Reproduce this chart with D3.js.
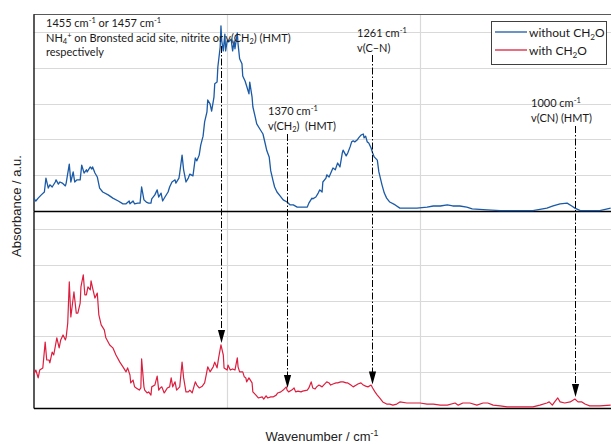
<!DOCTYPE html>
<html><head><meta charset="utf-8">
<script src="https://cdn.jsdelivr.net/npm/d3@7"></script>
<style>body{margin:0;background:#fff}svg{display:block}</style>
</head><body><svg id="c" width="611" height="444"></svg>
<script>
// ---- data ----
const blueWavenumber = [1696,1693,1690,1686,1682,1680,1677,1675,1672,1668,1667,1664,1662,1659,1655,1654,1650,1648,1645,1643,1640,1636,1634,1631,1628,1627,1623,1621,1620,1617,1614,1611,1607,1600,1594,1587,1581,1577,1573,1572,1568,1566,1562,1559,1557,1554,1551,1548,1545,1544,1540,1537,1535,1532,1530,1527,1523,1521,1518,1514,1513,1509,1508,1505,1503,1500,1497,1495,1491,1488,1486,1483,1481,1478,1476,1473,1472,1469,1467,1464,1463,1460,1459,1456,1455,1454,1452,1450,1449,1447,1445,1442,1440,1438,1437,1434,1433,1431,1428,1427,1424,1422,1419,1418,1415,1414,1411,1409,1405,1401,1398,1396,1393,1391,1388,1386,1383,1379,1375,1370,1366,1362,1357,1353,1350,1344,1342,1338,1337,1333,1330,1328,1325,1324,1320,1319,1316,1312,1311,1308,1306,1305,1302,1299,1298,1294,1292,1289,1287,1285,1283,1280,1278,1275,1272,1271,1269,1267,1265,1262,1260,1258,1254,1252,1248,1245,1242,1238,1231,1225,1216,1203,1190,1182,1173,1164,1157,1148,1139,1132,1113,1096,1054,1036,1028,1019,1010,1004,1000,993,968,954];
const blueAbsorbance = [0.36,0.28,0.36,0.45,0.53,0.92,0.64,0.73,0.67,0.81,0.87,0.75,0.81,0.78,0.70,0.78,1.31,0.81,1.09,0.81,0.87,0.87,1.28,1.06,1.15,1.09,1.23,1.17,1.23,1.06,0.95,0.64,0.53,0.45,0.36,0.28,0.20,0.20,0.28,0.20,0.28,0.20,0.22,0.22,0.67,0.31,0.25,0.22,0.22,0.34,0.45,0.59,0.39,0.50,0.28,0.39,0.53,0.67,0.81,0.87,0.78,0.92,1.06,1.56,1.15,0.81,0.92,1.03,0.98,1.48,1.40,1.56,1.84,2.09,2.49,2.77,3.10,2.99,2.79,3.18,3.55,3.60,4.02,4.58,5.17,4.75,4.47,4.94,4.47,4.75,4.72,4.80,4.47,4.75,4.53,4.97,4.66,4.25,4.11,3.77,3.63,3.49,3.27,3.60,3.18,2.91,2.63,2.43,2.29,2.15,1.87,1.68,1.51,1.12,0.84,0.67,0.53,0.42,0.31,0.25,0.17,0.17,0.11,0.11,0.11,0.11,0.22,0.36,0.34,0.39,0.50,0.59,0.53,0.81,0.92,1.01,0.95,1.15,1.20,1.15,1.28,1.34,1.23,1.62,1.70,1.54,1.62,1.79,1.93,1.96,1.93,1.98,2.04,2.12,2.15,2.04,2.09,1.93,1.90,1.76,1.62,1.51,1.42,1.09,0.73,0.50,0.36,0.25,0.17,0.08,0.08,0.08,0.11,0.14,0.14,0.17,0.14,0.14,0.11,0.06,0.03,0.01,0.01,0.08,0.14,0.20,0.22,0.14,0.08,0.01,0.01,0.08];
const redWavenumber = [1696,1693,1690,1688,1684,1681,1679,1676,1675,1672,1670,1667,1666,1663,1661,1658,1655,1654,1652,1650,1648,1644,1641,1639,1636,1635,1632,1630,1628,1626,1623,1622,1620,1617,1614,1612,1609,1605,1603,1598,1594,1590,1585,1581,1577,1575,1572,1571,1568,1566,1564,1560,1558,1557,1554,1553,1550,1548,1545,1544,1540,1537,1535,1533,1531,1528,1527,1524,1521,1519,1517,1514,1512,1508,1505,1503,1500,1497,1495,1492,1488,1486,1483,1479,1476,1474,1472,1469,1465,1463,1460,1458,1455,1452,1451,1447,1446,1443,1440,1437,1434,1433,1431,1427,1425,1423,1422,1419,1415,1414,1410,1407,1402,1400,1397,1395,1391,1388,1384,1382,1378,1375,1371,1370,1368,1364,1361,1359,1356,1352,1350,1344,1342,1339,1337,1334,1332,1329,1325,1323,1319,1316,1314,1311,1307,1305,1301,1298,1294,1292,1288,1285,1281,1279,1275,1272,1269,1266,1262,1260,1257,1254,1251,1247,1242,1238,1234,1229,1225,1216,1208,1199,1190,1182,1173,1164,1154,1150,1144,1135,1126,1118,1112,1105,1096,1087,1074,1062,1054,1045,1036,1033,1029,1026,1022,1019,1013,1006,1000,996,991,987,981,968,954];
const redAbsorbance = [0.92,1.06,0.84,1.06,1.12,1.84,1.34,1.34,1.26,1.56,1.48,1.84,1.96,1.68,1.90,2.04,1.90,1.98,2.37,3.52,2.54,3.24,2.65,2.65,2.93,3.38,3.72,3.16,3.16,3.38,3.30,3.55,3.35,3.07,3.21,2.60,2.32,2.18,1.96,1.76,1.68,1.48,1.28,1.15,1.01,1.12,0.92,0.70,0.78,0.59,0.56,0.50,0.56,1.37,0.59,0.50,0.42,0.45,0.36,0.59,0.64,0.89,0.50,0.56,0.59,0.42,0.45,0.56,0.59,0.84,0.59,0.73,0.50,0.59,1.28,0.84,0.45,0.45,0.50,0.42,0.73,0.64,0.56,0.61,0.70,0.92,1.15,1.01,1.15,1.28,1.12,1.40,1.76,1.48,1.12,1.06,1.20,1.06,1.09,1.06,1.40,1.15,1.01,1.01,0.87,0.84,0.73,0.84,0.70,0.45,0.36,0.28,0.31,0.25,0.34,0.28,0.31,0.31,0.36,0.42,0.45,0.50,0.59,0.50,0.45,0.50,0.56,0.45,0.47,0.45,0.47,0.50,0.56,0.73,0.56,0.53,0.59,0.64,0.59,0.64,0.73,0.70,0.64,0.67,0.70,0.70,0.73,0.73,0.70,0.70,0.64,0.59,0.64,0.67,0.70,0.64,0.61,0.59,0.64,0.56,0.45,0.36,0.28,0.17,0.11,0.11,0.08,0.11,0.17,0.14,0.14,0.14,0.11,0.11,0.08,0.08,0.14,0.08,0.14,0.14,0.08,0.14,0.14,0.08,0.06,0.03,0.03,0.03,0.03,0.08,0.14,0.17,0.08,0.17,0.28,0.17,0.14,0.17,0.25,0.17,0.17,0.11,0.06,0.06,0.08];
const seriesNames = ["without CH_{2}O", "with CH_{2}O"];
const seriesColors = ["#1a5aa6", "#dc1f3f"];
const markedWavenumbers = [1455, 1370, 1261, 1000];
const markedLabels = [
  ["1455 cm^{-1} or 1457 cm^{-1}", "NH_{4}^{+} on Bronsted acid site, nitrite or v(CH_{2}) (HMT)", "respectively"],
  ["1370 cm^{-1}", "v(CH_{2})  (HMT)"],
  ["1261 cm^{-1}", "v(C\u2013N)"],
  ["1000 cm^{-1}", "v(CN) (HMT)"]
];
const verticalGridWavenumbers = [1447, 1199];
const absorbanceGrid = [1, 2, 3, 4, 5];
const xTitle = "Wavenumber / cm^{-1}";
const yTitle = "Absorbance / a.u.";

// ---- drawing ----
const svg = d3.select("#c");
const L = 33.5, R = 613, T = 14, MID = 211, B = 408;
const x = d3.scaleLinear().domain([1696, 951]).range([L, R]);
const yTop = d3.scaleLinear().domain([0, 5.5]).range([MID, T]);
const yBot = d3.scaleLinear().domain([0, 5.5]).range([B, MID]);

const blue = blueWavenumber.map((w, i) => ({w, a: blueAbsorbance[i]}));
const red = redWavenumber.map((w, i) => ({w, a: redAbsorbance[i]}));

function rich(sel, str, size) {
  str.split(/([_^]\{[^}]*\})/).forEach(p => {
    if (!p) return;
    const m = p.match(/^([_^])\{([^}]*)\}$/);
    if (m) sel.append("tspan").attr("font-size", size * 0.68)
      .attr("baseline-shift", m[1] === "^" ? size * 0.38 : -size * 0.22).text(m[2]);
    else sel.append("tspan").text(p);
  });
}

svg.append("defs").append("clipPath").attr("id", "clip")
  .append("rect").attr("x", L).attr("y", T).attr("width", R - L).attr("height", B - T);

// gridlines
const grid = svg.append("g").attr("stroke", "#d9d9d9").attr("stroke-width", 1.2);
[yTop, yBot].forEach(ys => {
  grid.selectAll(null).data(absorbanceGrid).enter().append("line")
    .attr("x1", L).attr("x2", R).attr("y1", d => Math.round(ys(d)) + 0.5).attr("y2", d => Math.round(ys(d)) + 0.5);
});
grid.selectAll(null).data(verticalGridWavenumbers).enter().append("line")
  .attr("x1", d => Math.round(x(d)) + 0.5).attr("x2", d => Math.round(x(d)) + 0.5).attr("y1", T).attr("y2", B);

// frame / axes
svg.append("line").attr("x1", L).attr("x2", R).attr("y1", T + 0.5).attr("y2", T + 0.5).attr("stroke", "#595959").attr("stroke-width", 1.2);
svg.append("g").attr("transform", `translate(0,${B})`).call(d3.axisBottom(x).tickValues([]).tickSizeOuter(0));
svg.append("g").attr("transform", `translate(0,${MID})`).call(d3.axisBottom(x).tickValues([]).tickSizeOuter(0));
svg.append("g").attr("transform", `translate(${L},0)`).call(d3.axisLeft(yTop).tickValues([]).tickSizeOuter(0));
svg.append("g").attr("transform", `translate(${L},0)`).call(d3.axisLeft(yBot).tickValues([]).tickSizeOuter(0));
svg.selectAll(".domain").attr("stroke", "#000").attr("stroke-width", 1.3);

// series
const plot = svg.append("g").attr("clip-path", "url(#clip)");
plot.append("path").datum(blue).attr("fill", "none").attr("stroke", seriesColors[0]).attr("stroke-width", 1.3)
  .attr("stroke-linejoin", "round").attr("d", d3.line().x(d => x(d.w)).y(d => yTop(d.a)));
plot.append("path").datum(red).attr("fill", "none").attr("stroke", seriesColors[1]).attr("stroke-width", 1.2)
  .attr("stroke-linejoin", "round").attr("d", d3.line().x(d => x(d.w)).y(d => yBot(d.a)));

// annotations
const redAt = w => {
  const i = redWavenumber.findIndex(v => v <= w);
  if (i <= 0) return redAbsorbance[Math.max(i, 0)];
  const w0 = redWavenumber[i - 1], w1 = redWavenumber[i];
  const t = (w0 - w) / (w0 - w1);
  return redAbsorbance[i - 1] + t * (redAbsorbance[i] - redAbsorbance[i - 1]);
};
const labelPos = [[46, 27, 14.5, 46], [268, 115, 15, 134], [357, 37, 14.5, 55], [531, 107, 14.5, 126]];
const AF = 11;
markedWavenumbers.forEach((w, k) => {
  const [lx, ly, lh, ys] = labelPos[k];
  const cx = Math.round(x(w)) + 0.5;
  const tip = yBot(redAt(w)) - 2;
  const headH = 13, headW = 3.6;
  svg.append("line").attr("x1", cx).attr("x2", cx).attr("y1", ys).attr("y2", tip - headH + 1)
    .attr("stroke", "#000").attr("stroke-width", 1).attr("stroke-dasharray", "7,2,1.5,2");
  svg.append("path").attr("d", `M${cx},${tip}L${cx - headW},${tip - headH}L${cx + headW},${tip - headH}Z`).attr("fill", "#000");
  markedLabels[k].forEach((s, j) => {
    const t = svg.append("text").attr("x", lx).attr("y", ly + j * lh)
      .attr("font-family", "Lato, 'Open Sans', sans-serif").attr("font-size", AF).attr("fill", "#1a1a1a")
      .style("white-space", "pre");
    rich(t, s, AF);
  });
});

// legend
const lg = svg.append("g");
lg.append("rect").attr("x", 491.5).attr("y", 21.5).attr("width", 115).attr("height", 43)
  .attr("fill", "#fff").attr("stroke", "#404040").attr("stroke-width", 1);
seriesNames.forEach((n, i) => {
  const yy = 32 + i * 18;
  lg.append("line").attr("x1", 495).attr("x2", 527).attr("y1", yy).attr("y2", yy)
    .attr("stroke", seriesColors[i]).attr("stroke-width", 1.3);
  const t = lg.append("text").attr("x", 529).attr("y", yy + 4.5)
    .attr("font-family", "Lato, 'Open Sans', sans-serif").attr("font-size", 12).attr("fill", "#1a1a1a");
  rich(t, n, 12);
});

// axis titles
const xt = svg.append("text").attr("x", 322).attr("y", 441).attr("text-anchor", "middle")
  .attr("font-family", "'Liberation Sans', Arial, sans-serif").attr("font-size", 13).attr("fill", "#222");
rich(xt, xTitle, 13);
svg.append("text").attr("transform", "translate(21,206) rotate(-90)").attr("text-anchor", "middle")
  .attr("font-family", "'Liberation Sans', Arial, sans-serif").attr("font-size", 13).attr("fill", "#222").text(yTitle);
</script></body></html>
